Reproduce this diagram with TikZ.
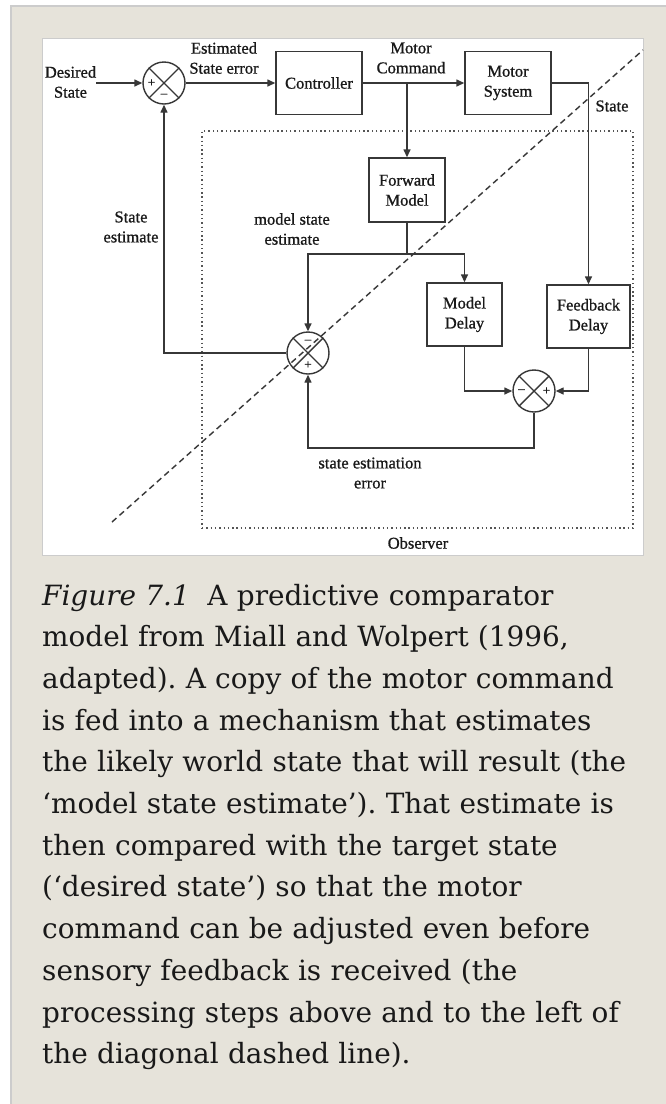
\documentclass[tikz,border=0pt]{standalone}
\usepackage{fontspec}
\setmainfont{Liberation Serif}
\newfontfamily\diagfont[RawFeature={embolden=0.9}]{Liberation Serif}
\newfontfamily\capfont{DejaVu Serif}
\usetikzlibrary{arrows.meta, positioning}
\definecolor{pagebeige}{RGB}{230, 227, 218}
\definecolor{edgegrey}{RGB}{204, 204, 204}
\definecolor{inkgrey}{RGB}{55, 55, 55}
\definecolor{textdark}{RGB}{25, 25, 25}
\frenchspacing

\begin{document}
\begin{tikzpicture}[x=1pt, y=-1pt,
  wire/.style={draw=inkgrey, line width=1.4pt},
  flow/.style={wire, -{Triangle[length=8pt, width=7pt]}},
  block/.style={draw=inkgrey, line width=1.4pt, fill=white, minimum width=#1, minimum height=63pt, align=center, inner sep=2pt, text=textdark, font=\diagfont\fontsize{16.5}{20}\selectfont},
  block/.default=86pt,
  summer/.style={circle, draw=inkgrey, line width=1.4pt, fill=white, minimum size=42pt, inner sep=0pt},
  sign/.style={inner sep=0pt, text=textdark, font=\diagfont\fontsize{13}{13}\selectfont},
  tag/.style={inner sep=0pt, align=center, text=textdark, font=\diagfont\fontsize{16.5}{20}\selectfont},
  obsbox/.style={draw=inkgrey!85, line width=1.5pt, dash pattern=on 1.4pt off 2.9pt},
  diag/.style={draw=inkgrey, line width=1.4pt, dash pattern=on 6pt off 4pt},
  captext/.style={inner sep=0pt, text width=624pt, align=left, text=black!90, font=\capfont\fontsize{27.9}{41.7}\selectfont}
]
  \useasboundingbox (0,0) rectangle (666,1104);
  \fill[white] (0,0) rectangle (666,1104);
  \fill[pagebeige] (11,6) rectangle (666,1104);
  \draw[edgegrey, line width=1.5pt] (11,1104) -- (11,6) -- (666,6);
  \draw[fill=white, draw=edgegrey, line width=1pt] (42,38) rectangle (643,555);

  % observer region
  \node[obsbox, minimum width=431pt, minimum height=397pt] (observer) at (417.5,329.5) {};
  \node[tag] (obslabel) at (418,543) {Observer};

  \node[tag] (desired) at (70.5,82) {Desired\\State};
  \node[summer] (sumA) at (164,83) {};
  \node[block] (ctrl) at (319,83) {Controller};
  \node[block] (motor) at (508,83) {Motor\\System};
  \node[block=76pt, minimum height=64pt] (fwd) at (407,190) {Forward\\Model};
  \node[block=75pt] (mdelay) at (464.5,314.5) {Model\\Delay};
  \node[block=83pt] (fdelay) at (588.5,316.5) {Feedback\\Delay};
  \node[summer] (sumB) at (308,353) {};
  \node[summer] (sumC) at (534,391) {};

  \foreach \s in {sumA, sumB, sumC}
    \draw[wire] (\s.45) -- (\s.225) (\s.135) -- (\s.-45);

  \node[sign] (sAplus) at ([xshift=-12.5pt]sumA.center) {+};
  \node[sign] (sAminus) at ([yshift=-12.5pt]sumA.center) {–};
  \node[sign] (sBminus) at ([yshift=11.5pt]sumB.center) {–};
  \node[sign] (sBplus) at ([yshift=-12pt]sumB.center) {+};
  \node[sign] (sCminus) at ([xshift=-12.5pt]sumC.center) {–};
  \node[sign] (sCplus) at ([xshift=12.5pt]sumC.center) {+};

  \node[tag] (esterr) at (224,58) {Estimated\\State error};
  \node[tag] (cmdlabel) at (411,58) {Motor\\Command};
  \node[tag] (statelabel) at (612,106) {State};
  \node[tag] (stest) at (131,227) {State\\estimate};
  \node[tag] (mselabel) at (292,229) {model state\\estimate};
  \node[tag] (errlabel) at (370,473) {state estimation\\error};

  \coordinate (cmd) at (fwd.north |- ctrl.east);
  \coordinate (mse) at (407,254);
  \coordinate (err) at (308,448);

  \draw[flow] (desired.east |- sumA) -- (sumA.west);
  \draw[flow] (sumA.east) -- (ctrl.west);
  \draw[flow] (ctrl.east) -- (motor.west);
  \draw[flow] (cmd) -- (fwd.north);
  \draw[flow] (motor.east) -| (fdelay.north);
  \draw[wire] (fwd.south) -- (mse);
  \draw[flow] (mse) -| (sumB.north);
  \draw[flow] (mse) -| (mdelay.north);
  \draw[flow] (mdelay.south) |- (sumC.west);
  \draw[flow] (fdelay.south) |- (sumC.east);
  \draw[flow] (sumC.south) |- (err) -- (sumB.south);
  \draw[flow] (sumB.west) -| (sumA.south);

  \draw[diag] (112,522) -- (643,50);

  \node[captext, anchor=base west] (caption) at (42,605) {\textit{Figure 7.1}\hspace{0.3em} A predictive comparator\\
model from Miall and Wolpert (1996,\\
adapted). A copy of the motor command\\
is fed into a mechanism that estimates\\
the likely world state that will result (the\\
‘model state estimate’). That estimate is\\
then compared with the target state\\
(‘desired state’) so that the motor\\
command can be adjusted even before\\
sensory feedback is received (the\\
processing steps above and to the left of\\
the diagonal dashed line).};
\end{tikzpicture}
\end{document}
